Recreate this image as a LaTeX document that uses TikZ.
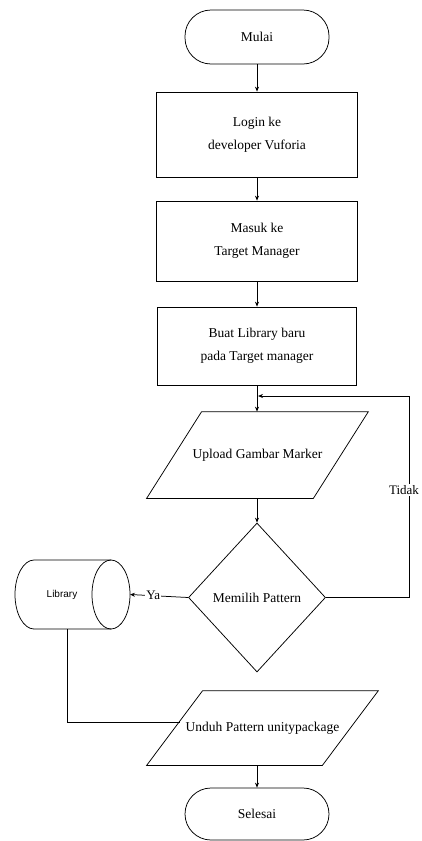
\documentclass[tikz,border=0pt]{standalone}
\usepackage{fontspec}
\setmainfont{Liberation Serif}
\newfontfamily\libsans{Liberation Sans}
\usetikzlibrary{shapes.geometric,arrows.meta,calc}
\tikzset{
  every picture/.style={line width=0.75pt},
  txt/.style={font=\fontsize{13.5}{22.5}\selectfont, align=center, inner sep=0pt},
  term/.style={txt, draw, rounded corners=26pt},
  procbox/.style={txt, draw},
  iobox/.style={txt},
  decbox/.style={txt, draw, diamond},
  arr/.style={-{Stealth[length=5pt,width=4pt]}},
  lbl/.style={font=\fontsize{13}{14}\selectfont, fill=white, inner sep=1pt}
}
\begin{document}
\begin{tikzpicture}[x=1pt,y=1pt]
\useasboundingbox (0,0) rectangle (421,-841);
\fill[white] (0,0) rectangle (421,-841);

\node[term, minimum width=144pt, minimum height=54pt] (mulai) at (257,-37) {Mulai};
\node[procbox, minimum width=201pt, minimum height=85pt] (login) at (257,-134.5) {Login ke\\developer Vuforia};
\node[procbox, minimum width=201pt, minimum height=80pt] (masuk) at (257,-241) {Masuk ke\\Target Manager};
\node[procbox, minimum width=199pt, minimum height=78pt] (buat) at (257,-346) {Buat Library baru\\pada Target manager};

\node[iobox, minimum width=221pt, minimum height=86pt] (upload) at (257.5,-455) {Upload Gambar Marker};
\draw ($(upload.north west)+(55,0)$) -- (upload.north east) -- ($(upload.south east)+(-55,0)$) -- (upload.south west) -- cycle;

\node[decbox, minimum width=137pt, minimum height=149pt] (dec) at (257,-597.5) {Memilih Pattern};

\node[font=\libsans\fontsize{10}{12}\selectfont, inner sep=0pt] (lib) at (62,-594.5) {Library};
\draw ($(lib)+(49,34.5)$) -- ($(lib)+(-28,34.5)$)
      arc[start angle=90, end angle=270, x radius=19pt, y radius=34.5pt]
      -- ($(lib)+(49,-34.5)$);
\draw ($(lib)+(49,0)$) ellipse [x radius=19pt, y radius=34.5pt];
\coordinate (libR) at ($(lib)+(68,0)$);
\coordinate (libB) at ($(lib)+(5,-34.5)$);

\node[iobox, minimum width=231pt, minimum height=74pt] (unduh) at (262.5,-728) {Unduh Pattern unitypackage};
\draw ($(unduh.north west)+(56,0)$) -- (unduh.north east) -- ($(unduh.south east)+(-56,0)$) -- (unduh.south west) -- cycle;
\coordinate (unduhL) at (180,-722);

\node[term, minimum width=144pt, minimum height=52pt] (selesai) at (257,-814) {Selesai};

\draw[arr] (mulai.south) -- (login.north);
\draw[arr] (login.south) -- (masuk.north);
\draw[arr] (masuk.south) -- (buat.north);
\draw[arr] (buat.south) -- (buat.south |- upload.north);
\draw[arr] (upload.south -| dec.north) -- (dec.north);
\coordinate (join) at (258,-396);
\coordinate (loopR) at (409,-396);
\draw[arr] (dec.east) -| (loopR) -- (join);
\node[lbl] at (404,-490) {Tidak};
\draw[arr] (dec.west) -- node[lbl, pos=0.6] {Ya} (libR);
\draw (libB) |- (unduhL);
\draw[arr] (selesai.north |- unduh.south) -- (selesai.north);
\end{tikzpicture}
\end{document}
